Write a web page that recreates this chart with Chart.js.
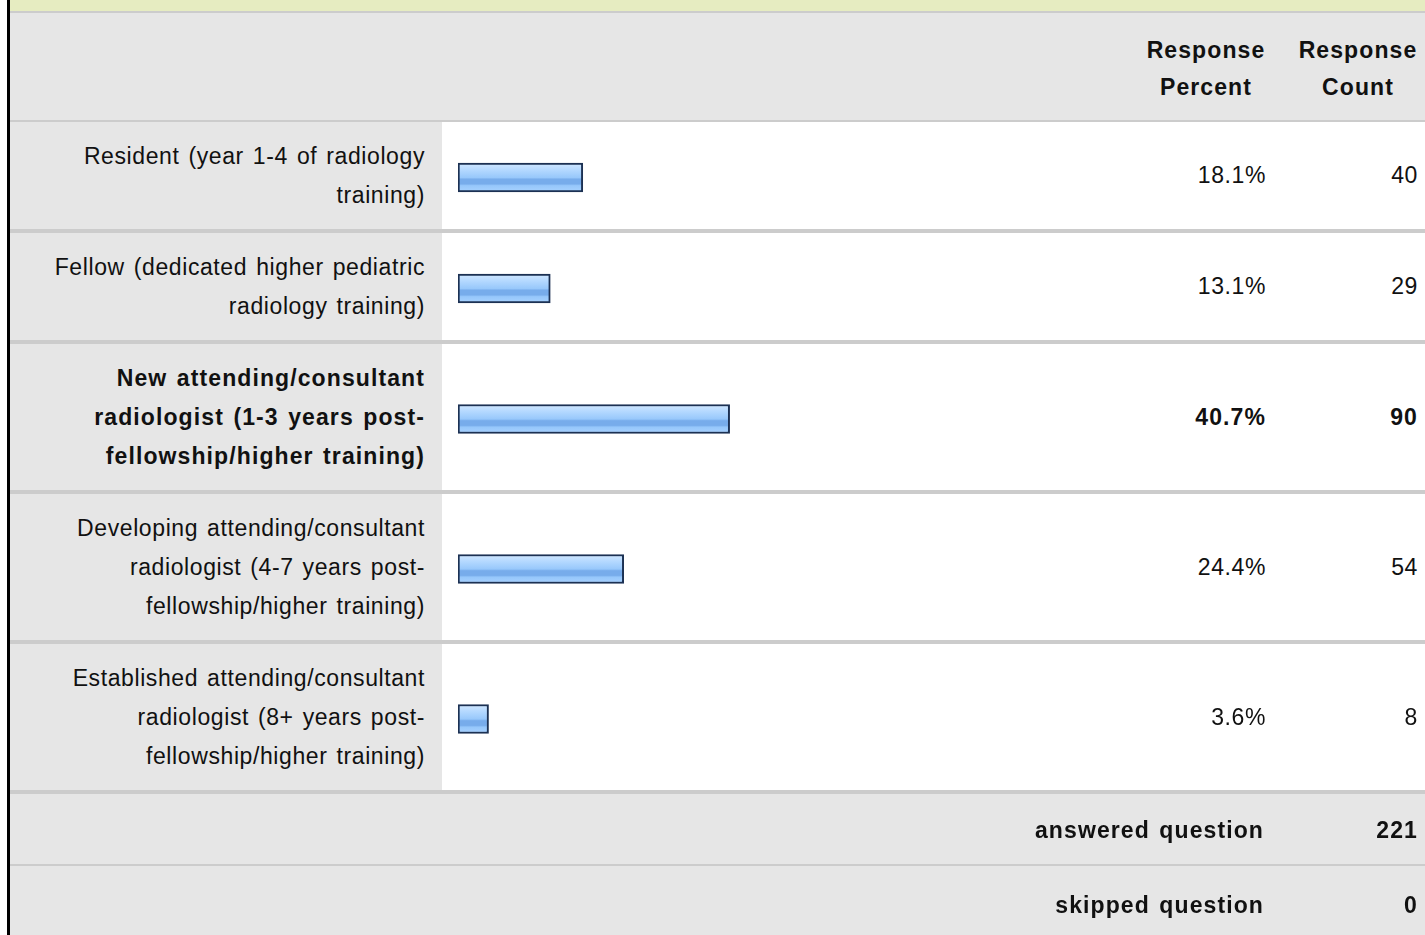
<!DOCTYPE html>
<html>
<head>
<meta charset="utf-8">
<title>Response summary</title>
<script src="https://cdn.jsdelivr.net/npm/chart.js@4.4.1/dist/chart.umd.min.js"></script>
<style>
    html, body {
        margin: 0;
        padding: 0;
        background: #fff;
        overflow: hidden;
    }
    #wrap {
        position: absolute;
        left: 7px;
        top: 0;
        width: 1418px;
        height: 935px;
        border-left: 3px solid #000;
        overflow: hidden;
        font-family: "Liberation Sans", Arial, Helvetica, sans-serif;
        font-size: 23px;
        letter-spacing: 0.6px;
        word-spacing: 2px;
        color: #111;
    }
    .topband {
        height: 13px;
        box-sizing: border-box;
        background: #e6ecc1;
        border-bottom: 2px solid #ccc;
    }
    .row {
        display: flex;
        box-sizing: border-box;
        width: 1415px;
    }
    .row > div {
        box-sizing: border-box;
        height: 100%;
    }
    .lab {
        width: 432px;
        background: #e6e6e6;
        display: flex;
        align-items: center;
        justify-content: flex-end;
        text-align: right;
        white-space: pre-line;
        line-height: 39px;
        padding-right: 17px;
    }
    .bar { width: 698px; background: #fff; }
    .pct, .cnt {
        display: flex;
        align-items: center;
        justify-content: flex-end;
        background: #fff;
    }
    .pct { width: 140px; padding-right: 14px; }
    .cnt { width: 145px; padding-right: 7px; }
    .head {
        height: 109px;
        background: #e6e6e6;
        border-bottom: 2px solid #ccc;
        font-weight: bold;
        letter-spacing: 1.1px;
        line-height: 37px;
    }
    .head .hp, .head .hc {
        display: flex;
        align-items: center;
        justify-content: center;
        text-align: center;
        white-space: pre-line;
        padding-top: 4px;
        background: #e6e6e6;
    }
    .head .hp { width: 140px; padding-right: 8px; }
    .head .hc { width: 145px; padding-left: 11px; }
    .data { border-bottom: 4px solid #ccc; }
    .bold { font-weight: bold; letter-spacing: 1.1px; }
    .foot {
        background: #e6e6e6;
        font-weight: bold;
        letter-spacing: 1.1px;
    }
    .foot .fl {
        width: 1270px;
        display: flex;
        align-items: center;
        justify-content: flex-end;
        padding-right: 16px;
        padding-top: 3px;
    }
    .foot .fv {
        width: 145px;
        display: flex;
        align-items: center;
        justify-content: flex-end;
        padding-right: 7px;
        padding-top: 3px;
    }
</style>
</head>
<body>
<div id="wrap">
    <div class="topband"></div>
    <div class="row head">
        <div style="width:1130px"></div>
        <div class="hp">Response
Percent</div>
        <div class="hc">Response
Count</div>
    </div>
    <div id="rows"></div>
    <div class="row foot" style="height:72px;border-bottom:2px solid #ccc">
        <div class="fl">answered question</div>
        <div class="fv" id="answered"></div>
    </div>
    <div class="row foot" style="height:76px">
        <div class="fl">skipped question</div>
        <div class="fv" id="skipped"></div>
    </div>
</div>

<script>
// ========================================
// DATA
// ========================================

const categories = [
    'Resident (year 1-4 of radiology\ntraining)',
    'Fellow (dedicated higher pediatric\nradiology training)',
    'New attending/consultant\nradiologist (1-3 years post-\nfellowship/higher training)',
    'Developing attending/consultant\nradiologist (4-7 years post-\nfellowship/higher training)',
    'Established attending/consultant\nradiologist (8+ years post-\nfellowship/higher training)'
];
const responsePercent = [18.1, 13.1, 40.7, 24.4, 3.6];
const responseCount = [40, 29, 90, 54, 8];
const emphasis = [false, false, true, false, false];
const answeredQuestion = 221;
const skippedQuestion = 0;

// bars start a little left of zero, like the survey tool draws them
const AXIS_MIN = -1.1;
const AXIS_MAX = 100;

// ========================================
// BAR STYLE
// ========================================

function barGradient(context) {
    const chart = context.chart;
    const area = chart.chartArea;
    if (!area) {
        return '#92c4fa';
    }
    const mid = (area.top + area.bottom) / 2;
    const g = chart.ctx.createLinearGradient(0, mid - 14.5, 0, mid + 14.5);
    g.addColorStop(0, '#d2e8ff');
    g.addColorStop(0.25, '#b3d8ff');
    g.addColorStop(0.5, '#98c8fb');
    g.addColorStop(0.56, '#77aceb');
    g.addColorStop(0.72, '#77aceb');
    g.addColorStop(0.78, '#96c7fb');
    g.addColorStop(1, '#a8d2ff');
    return g;
}

// ========================================
// ROWS
// ========================================

function buildRow(i) {
    const lines = categories[i].split('\n').length;
    const h = lines * 39 + 29;

    const row = document.createElement('div');
    row.className = 'row data' + (emphasis[i] ? ' bold' : '');
    row.style.height = (h + 4) + 'px';

    const lab = document.createElement('div');
    lab.className = 'lab';
    lab.textContent = categories[i];

    const barCell = document.createElement('div');
    barCell.className = 'bar';
    const canvas = document.createElement('canvas');
    canvas.width = 698;
    canvas.height = h;
    canvas.style.width = '698px';
    canvas.style.height = h + 'px';
    canvas.style.display = 'block';
    barCell.appendChild(canvas);

    const pct = document.createElement('div');
    pct.className = 'pct';
    pct.textContent = responsePercent[i].toFixed(1) + '%';

    const cnt = document.createElement('div');
    cnt.className = 'cnt';
    cnt.textContent = responseCount[i];

    row.appendChild(lab);
    row.appendChild(barCell);
    row.appendChild(pct);
    row.appendChild(cnt);
    document.getElementById('rows').appendChild(row);

    new Chart(canvas, {
        type: 'bar',
        data: {
            labels: [categories[i].replace(/\n/g, ' ')],
            datasets: [{
                data: [responsePercent[i]],
                base: AXIS_MIN,
                backgroundColor: barGradient,
                borderColor: '#1c3153',
                borderWidth: 2,
                borderSkipped: false,
                barThickness: 29
            }]
        },
        options: {
            indexAxis: 'y',
            responsive: false,
            animation: false,
            layout: {
                padding: { top: 4, bottom: 0, left: 16, right: 25 }
            },
            plugins: {
                legend: { display: false },
                tooltip: { enabled: false }
            },
            scales: {
                x: { type: 'linear', min: AXIS_MIN, max: AXIS_MAX, display: false },
                y: { type: 'category', display: false }
            }
        }
    });
}

document.addEventListener('DOMContentLoaded', function() {
    categories.forEach((_, i) => buildRow(i));
    document.getElementById('answered').textContent = answeredQuestion;
    document.getElementById('skipped').textContent = skippedQuestion;
});
</script>
</body>
</html>
